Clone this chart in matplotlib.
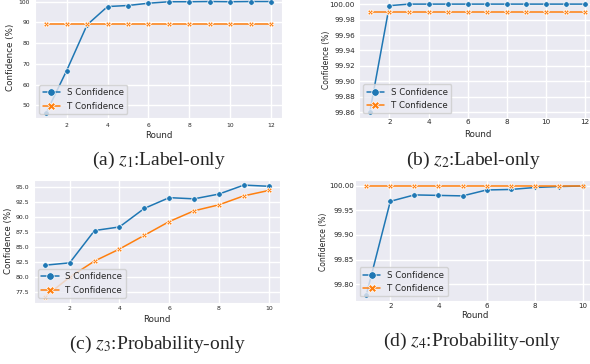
import matplotlib
matplotlib.use("Agg")
import matplotlib.pyplot as plt
import seaborn as sns
import numpy as np

# ---------------- data ----------------
rounds_12 = [1, 2, 3, 4, 5, 6, 7, 8, 9, 10, 11, 12]
rounds_10 = [1, 2, 3, 4, 5, 6, 7, 8, 9, 10]

a_s = [46.5, 66.8, 88.8, 97.6, 98.1, 99.2, 99.9, 99.9, 100.0, 99.9, 100.0, 100.0]
a_t = [89.0] * 12

b_s = [99.86, 99.998, 100.0, 100.0, 100.0, 100.0, 100.0, 100.0, 100.0, 100.0, 100.0, 100.0]
b_t = [99.99] * 12

c_s = [82.0, 82.4, 87.8, 88.4, 91.5, 93.3, 93.1, 93.9, 95.4, 95.2]
c_t = [76.7, 80.0, 82.7, 84.7, 87.0, 89.3, 91.1, 92.1, 93.6, 94.5]

d_s = [99.778, 99.968, 99.981, 99.980, 99.979, 99.991, 99.992, 99.996, 99.998, 99.999]
d_t = [99.9995] * 10

a_yticks = [50, 60, 70, 80, 90, 100]
b_yticks = [99.86, 99.88, 99.90, 99.92, 99.94, 99.96, 99.98, 100.00]
c_yticks = [77.5, 80.0, 82.5, 85.0, 87.5, 90.0, 92.5, 95.0]
d_yticks = [99.80, 99.85, 99.90, 99.95, 100.00]
xticks_12 = [2, 4, 6, 8, 10, 12]
xticks_10 = [2, 4, 6, 8, 10]

captions = ["(a) $z_1$:Label-only", "(b) $z_2$:Label-only",
            "(c) $z_3$:Probability-only", "(d) $z_4$:Probability-only"]
series_names = ["S Confidence", "T Confidence"]
x_label = "Round"
y_label = "Confidence (%)"

# ---------------- style ----------------
sns.set_style("darkgrid")
plt.rcParams["font.family"] = ["DejaVu Sans"]
plt.rcParams["mathtext.fontset"] = "stix"

W, H = 590, 364
fig = plt.figure(figsize=(W / 100, H / 100), dpi=100)

def rect(x0, x1, ytop, ybot):
    return [x0 / W, (H - ybot) / H, (x1 - x0) / W, (ybot - ytop) / H]

def fx(px):
    return px / W

def fy(py):
    return 1 - py / H

# rect, x, s, t, yticks, xticks, fmt, tick fs, ylabel fs, ytick pad, xtick pad,
# ylabel (x, y) px, xlabel (x, y) px
panels = [
    (rect(35, 282.2, -4, 118.3), rounds_12, a_s, a_t, a_yticks, xticks_12, "%d",
     4.3, 6.3, 3.6, 3.6, (11, 57), (158.7, 136)),
    (rect(359, 596, -1.3, 117.7), rounds_12, b_s, b_t, b_yticks, xticks_12, "%.2f",
     5.2, 5.5, 2.9, 0.8, (326.7, 60), (478, 134.5)),
    (rect(33.6, 279.9, 179.5, 302.5), rounds_10, c_s, c_t, c_yticks, xticks_10, "%.1f",
     4.4, 6.2, 3.1, 2.7, (8.7, 241.3), (156.8, 319)),
    (rect(355.4, 593.8, 180.3, 300.6), rounds_10, d_s, d_t, d_yticks, xticks_10, "%.2f",
     5.1, 5.5, 1.0, 1.5, (323.5, 242), (474.7, 316)),
]

cap_pos = [(159, 160), (474, 160), (157, 344), (472, 341)]

for i, (r, x, s, t, yt, xt, fmt, tfs, lfs, ypad, xpad, ylp, xlp) in enumerate(panels):
    ax = fig.add_axes(r)
    ax.plot(x, s, color="#1f77b4", marker="o", markersize=4, lw=1.1,
            markeredgecolor="white", markeredgewidth=0.5, label=series_names[0])
    ax.plot(x, t, color="#ff7f0e", marker="X", markersize=4, lw=1.1,
            markeredgecolor="white", markeredgewidth=0.5, label=series_names[1])
    ax.set_yticks(yt)
    ax.set_yticklabels([fmt % v for v in yt])
    ax.set_xticks(xt)
    ax.tick_params(axis="y", labelsize=tfs, pad=ypad, length=0, colors=".15")
    ax.tick_params(axis="x", labelsize=tfs, pad=xpad, length=0, colors=".15")
    ax.margins(x=0.05, y=0.05)
    ax.grid(True, color="white", lw=1.0)
    ax.legend(loc="lower left", fontsize=6.2, framealpha=0.8,
              borderaxespad=0.5, handlelength=2.0, markerscale=1.35)
    fig.text(fx(ylp[0]), fy(ylp[1]), y_label, rotation=90, ha="center",
             va="center", fontsize=lfs, color=".15")
    fig.text(fx(xlp[0]), fy(xlp[1]), x_label, ha="center", va="center",
             fontsize=6.2, color=".15")
    cx, cy = cap_pos[i]
    fig.text(fx(cx), fy(cy), captions[i], ha="center", va="center",
             fontsize=14, family="Liberation Serif")

fig.savefig("out.png", dpi=100)
